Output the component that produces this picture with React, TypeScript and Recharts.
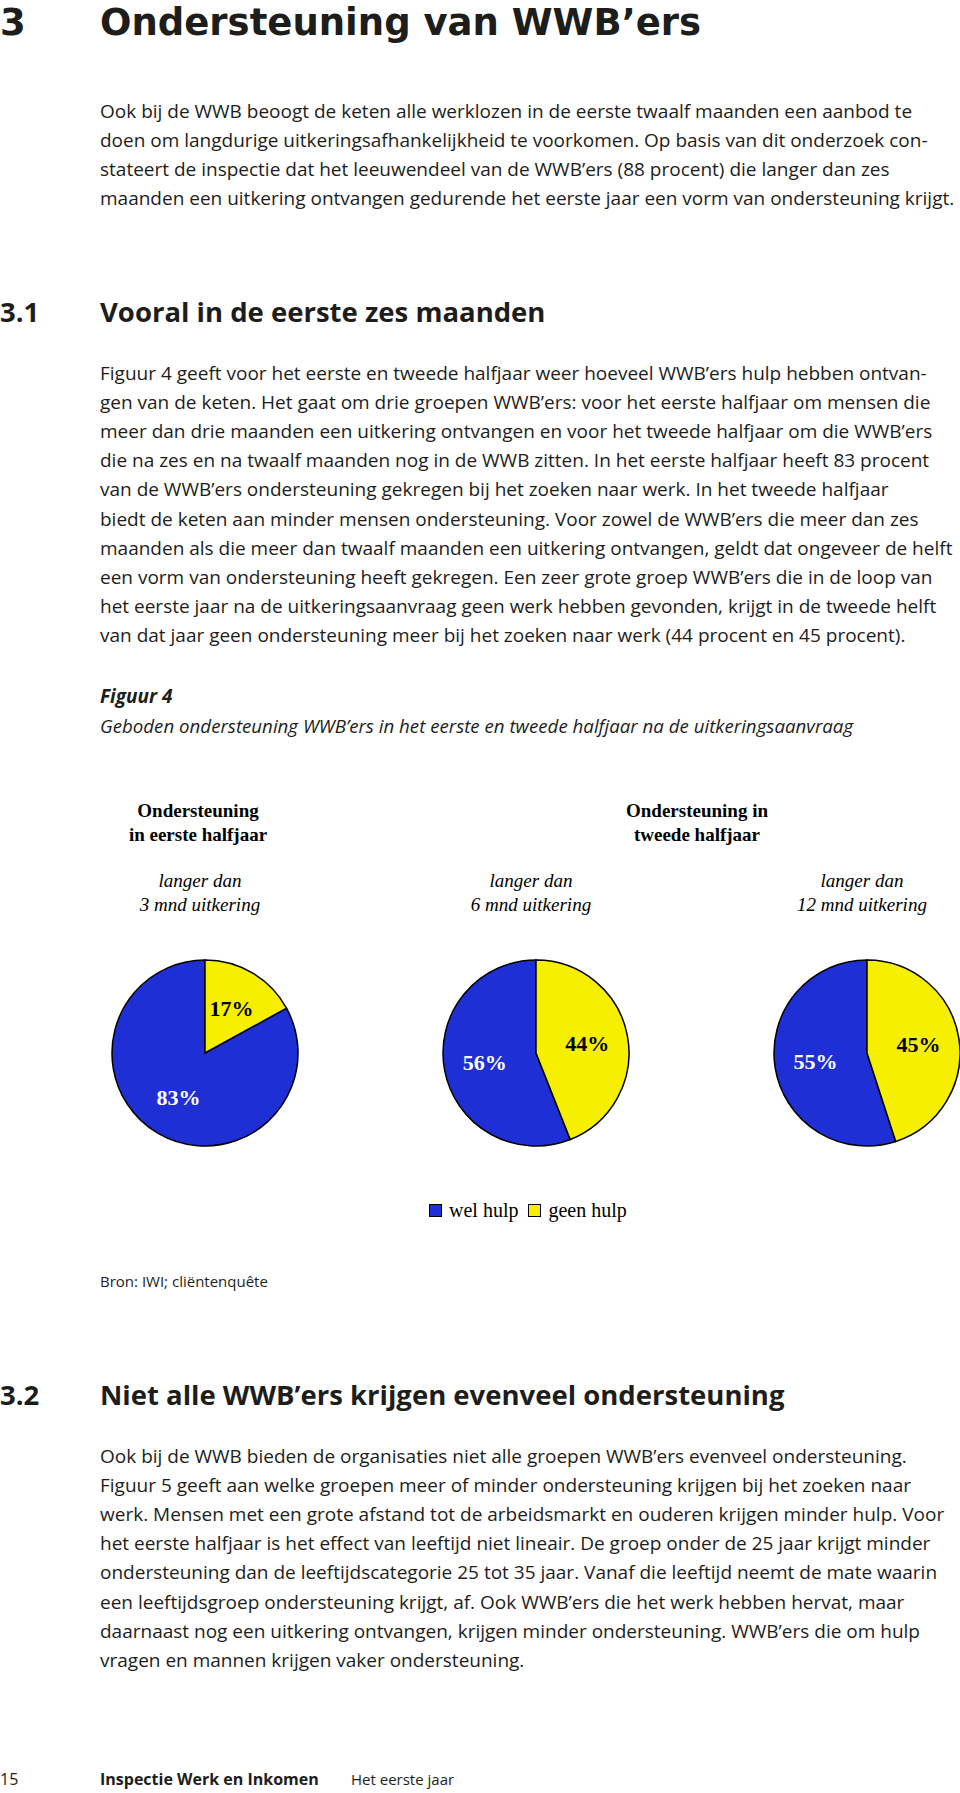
import { PieChart, Pie, Cell, Legend } from "recharts";

// chart data
const SERIES = ["wel hulp", "geen hulp"];
const COLORS = ["#1f2fd6", "#f6f000"];
const HEADINGS = [
  ["Ondersteuning", "in eerste halfjaar"],
  ["Ondersteuning in", "tweede halfjaar"],
];
const GROUPS = ["3 mnd uitkering", "6 mnd uitkering", "12 mnd uitkering"];
const WEL_HULP = [83, 56, 55];
const GEEN_HULP = [17, 44, 45];

// page text
const PARA_1 = [
  "Ook bij de WWB beoogt de keten alle werklozen in de eerste twaalf maanden een aanbod te",
  "doen om langdurige uitkeringsafhankelijkheid te voorkomen. Op basis van dit onderzoek con-",
  "stateert de inspectie dat het leeuwendeel van de WWB’ers (88 procent) die langer dan zes",
  "maanden een uitkering ontvangen gedurende het eerste jaar een vorm van ondersteuning krijgt.",
];
const PARA_2 = [
  "Figuur 4 geeft voor het eerste en tweede halfjaar weer hoeveel WWB’ers hulp hebben ontvan-",
  "gen van de keten. Het gaat om drie groepen WWB’ers: voor het eerste halfjaar om mensen die",
  "meer dan drie maanden een uitkering ontvangen en voor het tweede halfjaar om die WWB’ers",
  "die na zes en na twaalf maanden nog in de WWB zitten. In het eerste halfjaar heeft 83 procent",
  "van de WWB’ers ondersteuning gekregen bij het zoeken naar werk. In het tweede halfjaar",
  "biedt de keten aan minder mensen ondersteuning. Voor zowel de WWB’ers die meer dan zes",
  "maanden als die meer dan twaalf maanden een uitkering ontvangen, geldt dat ongeveer de helft",
  "een vorm van ondersteuning heeft gekregen. Een zeer grote groep WWB’ers die in de loop van",
  "het eerste jaar na de uitkeringsaanvraag geen werk hebben gevonden, krijgt in de tweede helft",
  "van dat jaar geen ondersteuning meer bij het zoeken naar werk (44 procent en 45 procent).",
];
const PARA_3 = [
  "Ook bij de WWB bieden de organisaties niet alle groepen WWB’ers evenveel ondersteuning.",
  "Figuur 5 geeft aan welke groepen meer of minder ondersteuning krijgen bij het zoeken naar",
  "werk. Mensen met een grote afstand tot de arbeidsmarkt en ouderen krijgen minder hulp. Voor",
  "het eerste halfjaar is het effect van leeftijd niet lineair. De groep onder de 25 jaar krijgt minder",
  "ondersteuning dan de leeftijdscategorie 25 tot 35 jaar. Vanaf die leeftijd neemt de mate waarin",
  "een leeftijdsgroep ondersteuning krijgt, af. Ook WWB’ers die het werk hebben hervat, maar",
  "daarnaast nog een uitkering ontvangen, krijgen minder ondersteuning. WWB’ers die om hulp",
  "vragen en mannen krijgen vaker ondersteuning.",
];

const SANS = "'Open Sans', sans-serif";
const SERIF = "'Liberation Serif', 'Times New Roman', serif";
const INK = "#1d1d1b";
const PIE_X = [200, 531, 862];
const RADIAN = Math.PI / 180;

function Paragraph({ lines, y }: { lines: string[]; y: number }) {
  return (
    <text fontFamily={SANS} fontSize={19} fill={INK}>
      {lines.map((line, i) => (
        <tspan key={i} x={100} y={y + i * 29.1}>
          {line}
        </tspan>
      ))}
    </text>
  );
}

function renderLabel(props: any) {
  const { cx, cy, midAngle, outerRadius, value, index } = props;
  const r = outerRadius * 0.56;
  const x = cx + r * Math.cos(-midAngle * RADIAN);
  const y = cy + r * Math.sin(-midAngle * RADIAN);
  return (
    <text
      x={x}
      y={y}
      fill={index === 0 ? "#ffffff" : "#000000"}
      textAnchor="middle"
      dominantBaseline="central"
      fontFamily={SERIF}
      fontWeight="bold"
      fontSize={22}
    >
      {value}%
    </text>
  );
}

function renderLegend() {
  return (
    <div style={{ display: "flex", alignItems: "center", fontFamily: SERIF, fontSize: 20, lineHeight: "20px", color: "#000" }}>
      {SERIES.map((name, i) => (
        <div key={name} style={{ display: "flex", alignItems: "center", marginRight: 10 }}>
          <span
            style={{
              width: 11,
              height: 11,
              background: COLORS[i],
              border: "1px solid #000",
              marginRight: 7,
              display: "inline-block",
            }}
          />
          <span>{name}</span>
        </div>
      ))}
    </div>
  );
}

function HulpCharts() {
  return (
    <PieChart width={960} height={300}>
      {GROUPS.map((group, g) => {
        const data = SERIES.map((name, i) => ({
          name,
          value: i === 0 ? WEL_HULP[g] : GEEN_HULP[g],
        }));
        return (
          <Pie
            key={group}
            data={data}
            dataKey="value"
            nameKey="name"
            cx={PIE_X[g]}
            cy={108}
            outerRadius={93}
            startAngle={90}
            endAngle={450}
            stroke="#000"
            strokeWidth={1.5}
            label={renderLabel}
            labelLine={false}
            isAnimationActive={false}
          >
            {data.map((_, i) => (
              <Cell key={i} fill={COLORS[i]} />
            ))}
          </Pie>
        );
      })}
      <Legend content={renderLegend} wrapperStyle={{ left: 429, top: 260, width: "auto" }} />
    </PieChart>
  );
}

export default function App() {
  return (
    <div style={{ position: "absolute", left: 0, top: 0, width: 960, height: 1793, background: "#fff" }}>
      <svg width={960} height={1793} style={{ position: "absolute", left: 0, top: 0 }}>
        <g fill={INK} fontFamily="'DejaVu Sans', sans-serif" fontWeight="bold" fontSize={37}>
          <text x={0} y={35}>3</text>
          <text x={100} y={35}>Ondersteuning van WWB’ers</text>
        </g>
        <g fill={INK} fontFamily={SANS} fontWeight="bold" fontSize={27.5}>
          <text x={0} y={322}>3.1</text>
          <text x={100} y={322}>Vooral in de eerste zes maanden</text>
          <text x={0} y={1405}>3.2</text>
          <text x={100} y={1405}>Niet alle WWB’ers krijgen evenveel ondersteuning</text>
        </g>

        <Paragraph lines={PARA_1} y={118} />
        <Paragraph lines={PARA_2} y={380} />

        <text x={100} y={703} fontFamily={SANS} fontSize={19} fontWeight="bold" fontStyle="italic" fill={INK}>
          Figuur 4
        </text>
        <text x={100} y={733} fontFamily={SANS} fontSize={18.7} fontStyle="italic" fill={INK}>
          Geboden ondersteuning WWB’ers in het eerste en tweede halfjaar na de uitkeringsaanvraag
        </text>

        <g fontFamily={SERIF} fontWeight="bold" fontSize={19} fill="#000" textAnchor="middle">
          <text x={198} y={817}>{HEADINGS[0][0]}</text>
          <text x={198} y={841}>{HEADINGS[0][1]}</text>
          <text x={697} y={817}>{HEADINGS[1][0]}</text>
          <text x={697} y={841}>{HEADINGS[1][1]}</text>
        </g>
        <g fontFamily={SERIF} fontStyle="italic" fontSize={19} fill="#000" textAnchor="middle">
          {GROUPS.map((group, g) => (
            <g key={group}>
              <text x={PIE_X[g]} y={887}>langer dan</text>
              <text x={PIE_X[g]} y={911}>{group}</text>
            </g>
          ))}
        </g>

        <text x={100} y={1287} fontFamily={SANS} fontSize={15} fill={INK}>
          Bron: IWI; cliëntenquête
        </text>

        <Paragraph lines={PARA_3} y={1463} />

        <g fontFamily={SANS} fill={INK}>
          <text x={0} y={1785} fontSize={16}>15</text>
          <text x={100} y={1785} fontSize={16} fontWeight="bold">Inspectie Werk en Inkomen</text>
          <text x={351} y={1785} fontSize={15}>Het eerste jaar</text>
        </g>
      </svg>
      <div style={{ position: "absolute", left: 0, top: 940 }}>
        <HulpCharts />
      </div>
    </div>
  );
}
